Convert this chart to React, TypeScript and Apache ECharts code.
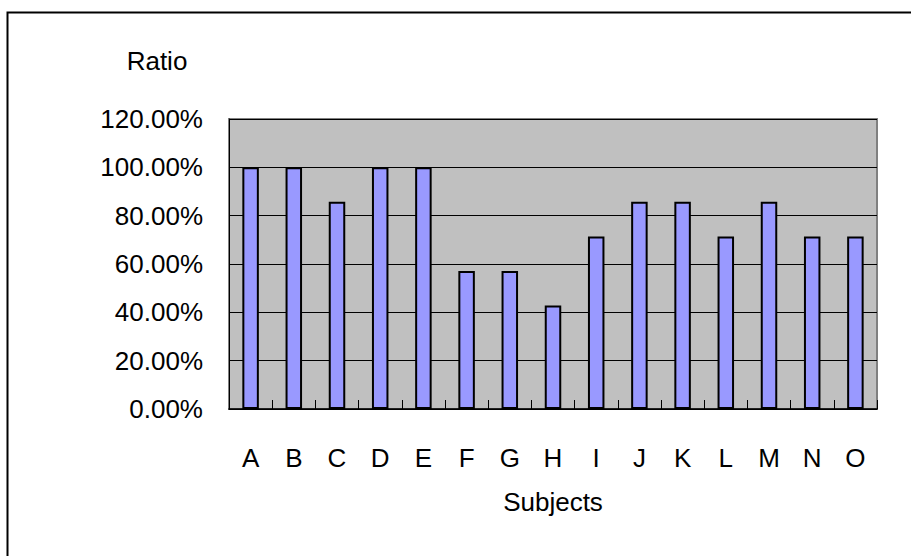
import React, { useEffect, useRef } from "react";
import * as echarts from "echarts";

// Share of passing results per subject, in percent
const subjects = ["A", "B", "C", "D", "E", "F", "G", "H", "I", "J", "K", "L", "M", "N", "O"];
const ratios = [100, 100, 85.71, 100, 100, 57.14, 57.14, 42.86, 71.43, 85.71, 85.71, 71.43, 85.71, 71.43, 71.43];
const yTicks = { min: 0, max: 120, interval: 20 };

const FONT = "'Liberation Sans', Arial, sans-serif";
const SIZE = 26;

export default function App() {
  const ref = useRef<HTMLDivElement>(null);

  useEffect(() => {
    if (!ref.current) return;
    const chart = echarts.init(ref.current, undefined, { renderer: "svg" });
    chart.setOption({
      animation: false,
      backgroundColor: "#ffffff",
      textStyle: { fontFamily: FONT, color: "#000" },
      graphic: [
        {
          type: "rect",
          shape: { x: 7.5, y: 12.5, width: 940, height: 600 },
          style: { fill: "none", stroke: "#000", lineWidth: 2 },
          silent: true,
        },
        {
          type: "text",
          x: 157,
          y: 61,
          style: {
            text: "Ratio",
            fontFamily: FONT,
            fontSize: SIZE,
            fill: "#000",
            align: "center",
            verticalAlign: "middle",
          },
        },
      ],
      grid: {
        left: 229,
        top: 119,
        right: 34,
        bottom: 147,
        show: true,
        backgroundColor: "#c0c0c0",
        borderColor: "#808080",
        borderWidth: 2,
      },
      xAxis: {
        type: "category",
        data: subjects,
        boundaryGap: true,
        name: "Subjects",
        nameLocation: "middle",
        nameGap: 80,
        nameTextStyle: { fontFamily: FONT, fontSize: SIZE, color: "#000" },
        axisLine: { show: true, lineStyle: { color: "#000", width: 1.5 } },
        axisTick: { show: true, inside: true, length: 9, lineStyle: { color: "#000", width: 1 } },
        axisLabel: { fontFamily: FONT, fontSize: SIZE, color: "#000", margin: 36 },
        splitLine: { show: false },
      },
      yAxis: {
        type: "value",
        min: yTicks.min,
        max: yTicks.max,
        interval: yTicks.interval,
        axisLine: { show: true, lineStyle: { color: "#000", width: 1 } },
        axisTick: { show: true, inside: true, length: 9, lineStyle: { color: "#000" } },
        axisLabel: {
          fontFamily: FONT,
          fontSize: SIZE,
          color: "#000",
          margin: 26,
          formatter: (v: number) => v.toFixed(2) + "%",
        },
        splitLine: { show: true, lineStyle: { color: "#000", width: 1 } },
      },
      series: [
        {
          type: "bar",
          data: ratios,
          barWidth: 16.5,
          itemStyle: { color: "#9999ff", borderColor: "#000", borderWidth: 2 },
        },
      ],
    });
    return () => chart.dispose();
  }, []);

  return (
    <div
      ref={ref}
      style={{ position: "fixed", left: 0, top: 0, width: 911, height: 556 }}
    />
  );
}
